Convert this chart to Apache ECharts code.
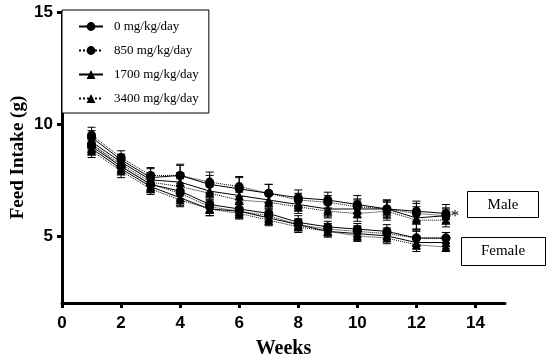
<!DOCTYPE html>
<html>
<head>
<meta charset="utf-8">
<script src="https://cdn.jsdelivr.net/npm/echarts@6/dist/echarts.min.js"></script>
<style>
html,body{margin:0;padding:0;background:#fff;}
#c{width:550px;height:359px;}
</style>
</head>
<body>
<div id="c"></div>
<script>
// ---- data ----
var weeks = [1,2,3,4,5,6,7,8,9,10,11,12,13];
var doseNames = ['0 mg/kg/day','850 mg/kg/day','1700 mg/kg/day','3400 mg/kg/day'];
var xTicks = [0,2,4,6,8,10,12,14];
var yTicks = [5,10,15];

var male0    = [9.4,8.4,7.6,7.7,7.3,7.1,6.9,6.7,6.6,6.4,6.2,6.1,6.0];
var male850  = [9.5,8.5,7.7,7.7,7.4,7.2,6.9,6.6,6.5,6.3,6.2,6.0,5.9];
var male1700 = [9.2,8.3,7.5,7.4,7.0,6.8,6.6,6.4,6.2,6.2,6.2,5.8,5.9];
var male3400 = [9.1,8.2,7.4,7.2,6.9,6.6,6.5,6.3,6.1,6.0,6.1,5.7,5.7];

var female0    = [9.0,8.1,7.3,7.0,6.4,6.2,6.0,5.6,5.4,5.3,5.2,4.9,4.9];
var female850  = [9.1,8.1,7.3,6.9,6.3,6.1,5.9,5.5,5.3,5.2,5.1,4.9,4.9];
var female1700 = [8.9,8.0,7.2,6.7,6.2,6.1,5.8,5.5,5.2,5.1,5.0,4.7,4.7];
var female3400 = [8.8,7.9,7.1,6.6,6.2,6.0,5.7,5.4,5.2,5.0,4.9,4.6,4.5];

var maleErr0    = [0.3,0.25,0.4,0.5,0.4,0.5,0.4,0.35,0.35,0.4,0.4,0.45,0.4];
var maleErr850  = [0.35,0.3,0.35,0.45,0.45,0.45,0.4,0.3,0.3,0.35,0.4,0.45,0.35];
var maleErr1700 = [0.3,0.25,0.3,0.4,0.35,0.4,0.35,0.3,0.35,0.4,0.35,0.5,0.3];
var maleErr3400 = [0.3,0.3,0.3,0.35,0.3,0.35,0.3,0.3,0.3,0.35,0.4,0.4,0.3];

var femaleErr0    = [0.3,0.25,0.3,0.35,0.35,0.3,0.3,0.3,0.25,0.25,0.3,0.35,0.25];
var femaleErr850  = [0.3,0.25,0.3,0.3,0.3,0.3,0.3,0.25,0.25,0.25,0.25,0.3,0.25];
var femaleErr1700 = [0.3,0.25,0.25,0.35,0.3,0.3,0.3,0.25,0.25,0.3,0.25,0.3,0.25];
var femaleErr3400 = [0.3,0.3,0.25,0.3,0.3,0.25,0.25,0.25,0.25,0.25,0.25,0.3,0.2];

var groups = [
  {name: doseNames[0], vals: male0,      err: maleErr0,      symbol: 'circle',   line: 'solid'},
  {name: doseNames[1], vals: male850,    err: maleErr850,    symbol: 'circle',   line: 'dotted'},
  {name: doseNames[2], vals: male1700,   err: maleErr1700,   symbol: 'triangle', line: 'solid'},
  {name: doseNames[3], vals: male3400,   err: maleErr3400,   symbol: 'triangle', line: 'dotted'},
  {name: doseNames[0], vals: female0,    err: femaleErr0,    symbol: 'circle',   line: 'solid'},
  {name: doseNames[1], vals: female850,  err: femaleErr850,  symbol: 'circle',   line: 'dotted'},
  {name: doseNames[2], vals: female1700, err: femaleErr1700, symbol: 'triangle', line: 'solid'},
  {name: doseNames[3], vals: female3400, err: femaleErr3400, symbol: 'triangle', line: 'dotted'}
];

var series = [];
groups.forEach(function (g, gi) {
  var errData = weeks.map(function (w, i) { return [w, g.vals[i] - g.err[i], g.vals[i] + g.err[i]]; });
  series.push({
    type: 'custom',
    name: 'err' + gi,
    silent: true,
    z: 1,
    renderItem: function (params, api) {
      var x = api.value(0);
      var lo = api.coord([x, api.value(1)]);
      var hi = api.coord([x, api.value(2)]);
      var hw = 4;
      var st = {stroke: '#000', lineWidth: 1};
      return {
        type: 'group',
        children: [
          {type: 'line', shape: {x1: lo[0], y1: lo[1], x2: hi[0], y2: hi[1]}, style: st},
          {type: 'line', shape: {x1: lo[0] - hw, y1: lo[1], x2: lo[0] + hw, y2: lo[1]}, style: st},
          {type: 'line', shape: {x1: hi[0] - hw, y1: hi[1], x2: hi[0] + hw, y2: hi[1]}, style: st}
        ]
      };
    },
    encode: {x: 0, y: [1, 2]},
    data: errData
  });
  series.push({
    type: 'line',
    name: g.name,
    z: 3,
    data: weeks.map(function (w, i) { return [w, g.vals[i]]; }),
    symbol: g.symbol,
    symbolSize: 9,
    showAllSymbol: true,
    lineStyle: {color: '#000', width: 1, type: g.line},
    itemStyle: {color: '#000'},
    emphasis: {disabled: true}
  });
});

var chart = echarts.init(document.getElementById('c'));
var serif = '"Liberation Serif", "Times New Roman", serif';
var sans = '"Liberation Sans", Arial, sans-serif';
chart.setOption({
  animation: false,
  backgroundColor: '#fff',
  grid: {left: 62, right: 45, top: 12, bottom: 56, containLabel: false, outerBoundsMode: 'none'},
  legend: {
    data: doseNames,
    orient: 'vertical',
    left: 62,
    top: 10,
    padding: [10, 10, 8, 16],
    itemGap: 11,
    itemWidth: 24,
    itemHeight: 11,
    borderColor: '#000',
    borderWidth: 1,
    backgroundColor: '#fff',
    selectedMode: false,
    textStyle: {fontFamily: serif, fontSize: 13, color: '#000', padding: [0, 0, 0, 6]}
  },
  xAxis: {
    type: 'value',
    min: 0, max: 15, interval: 2,
    name: 'Weeks',
    nameLocation: 'middle',
    nameGap: 36,
    nameTextStyle: {fontFamily: serif, fontWeight: 'bold', fontSize: 20, color: '#000'},
    axisLine: {lineStyle: {color: '#000', width: 3}},
    axisTick: {show: true, length: 5, lineStyle: {color: '#000', width: 3}, customValues: xTicks},
    axisLabel: {customValues: xTicks, margin: 12, fontFamily: sans, fontWeight: 'bold', fontSize: 17, color: '#000'},
    splitLine: {show: false}
  },
  yAxis: {
    type: 'value',
    min: 2, max: 15,
    name: 'Feed Intake (g)',
    nameLocation: 'middle',
    nameGap: 34,
    nameMoveOverlap: false,
    nameTextStyle: {fontFamily: serif, fontWeight: 'bold', fontSize: 19, color: '#000'},
    axisLine: {show: true, lineStyle: {color: '#000', width: 3}},
    axisTick: {show: true, length: 5, lineStyle: {color: '#000', width: 3}, customValues: yTicks},
    axisLabel: {customValues: yTicks, margin: 9, fontFamily: sans, fontWeight: 'bold', fontSize: 17, color: '#000'},
    splitLine: {show: false}
  },
  graphic: [
    {type: 'rect', left: 467, top: 191, shape: {width: 71, height: 26}, style: {fill: '#fff', stroke: '#000', lineWidth: 1}},
    {type: 'text', x: 503, y: 205, style: {text: 'Male', font: '15px ' + serif, fill: '#000', textAlign: 'center', textVerticalAlign: 'middle'}},
    {type: 'rect', left: 461, top: 237, shape: {width: 84, height: 28}, style: {fill: '#fff', stroke: '#000', lineWidth: 1}},
    {type: 'text', x: 503, y: 251, style: {text: 'Female', font: '15px ' + serif, fill: '#000', textAlign: 'center', textVerticalAlign: 'middle'}},
    {type: 'text', x: 455, y: 217, style: {text: '*', font: '17px ' + serif, fill: '#000', textAlign: 'center', textVerticalAlign: 'middle'}}
  ],
  series: series
});
</script>
</body>
</html>
